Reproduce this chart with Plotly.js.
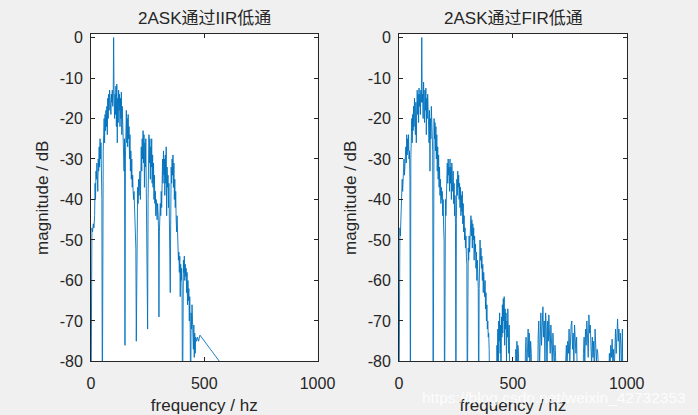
<!DOCTYPE html>
<html>
<head>
<meta charset="utf-8">
<script src="https://cdn.plot.ly/plotly-3.0.1.min.js"></script>
<style>html,body{margin:0;padding:0;background:#f0f0f0;}#chart{width:698px;height:415px;}</style>
</head>
<body>
<div id="chart"></div>
<script>
// ---- data ----
var iirFreq = [0,1.5,4,7,10,13,16,18,20,22,24,26,28,30,32,34,36,38,40,42,44,46,48,50,
52,54,56,58,60,62,64,66,68,70,72,74,76,78,80,82,84,86,88,90,92,94,96,98,100,102,
104,106,108,110,112,114,116,118,120,122,124,126,128,130,132,134,136,138,140,142,144,146,148,150,
152,154,156,158,160,162,164,166,168,170,172,174,176,178,180,182,184,186,188,190,192,194,196,198,200,
202,204,206,208,210,212,214,216,218,220,222,224,226,228,230,232,234,236,238,240,242,244,246,248,250,
252,254,256,258,260,262,264,266,268,270,272,274,276,278,280,282,284,286,288,290,292,294,296,298,300,
302,304,306,308,310,312,314,316,318,320,322,324,326,328,330,332,334,336,338,340,342,344,346,348,350,
352,354,356,358,360,362,364,366,368,370,372,374,376,378,380,382,384,386,388,390,392,394,396,398,400,402,404,
406,408,410,412,414,416,418,420,422,424,426,428,430,432,434,436,438,440,442,444,446,448,450,452,454,456,458,460,462,466,470,475,481,565,700];
var iirMag = [-95,-48,-47,-48,-46,-47,-44,-36,-40,-33,-35,-31,-37,-38,-30,-33,-27,-32,-25,-30,-26,-33,-40,-95,
-40,-28,-24,-20,-26,-19,-23,-18,-22,-17,-24,-15,-20,-14,-18,-13,-17,-15,-19,-14,-16,-13,-17,-14,0,-15,
-20,-14,-19,-12,-22,-11.5,-26,-15,-21,-13,-18,-14,-22,-15,-20,-13.5,-24,-17,-23,-19,-28,-33,-25,-76,
-30,-22,-18,-26,-20,-27,-19,-25,-22,-30,-24,-33,-28,-35,-30,-37,-34,-38,-40,-38,-42,-44,-48,-52,-75,
-50,-40,-37,-41,-35,-39,-36,-33,-40,-30,-27,-33,-25,-30,-23,-31,-24,-37,-26,-32,-25,-40,-31,-45,-72,
-40,-28,-24,-31,-25,-35,-27,-32,-25,-36,-29,-37,-31,-40,-34,-41,-38,-44,-40,-42,-45,-41,-43,-47,-69,
-48,-43,-41,-44,-38,-42,-33,-30,-36,-28,-34,-30,-39,-29,-36,-27,-44,-32,-37,-34,-42,-36,-45,-52,-63,
-45,-32,-36,-30,-34,-29,-37,-31,-40,-35,-42,-38,-45,-48,-44,-52,-49,-55,-53,-58,-54,-64,-56,-60,-57,-62,-95,
-60,-55,-58,-54,-60,-56,-59,-57,-63,-58,-66,-60,-65,-62,-70,-64,-72,-95,-68,-72,-66,-74,-70,-77,-71,-79,-73,-78,-74,-75,-74,-75,-73.5,-80,-90];

var firFreq = [0,2,4,6,8,10,12,14,16,18,20,22,24,26,28,30,32,34,36,38,40,42,44,46,48,50,
52,54,56,58,60,62,64,66,68,70,72,74,76,78,80,82,84,86,88,90,92,94,96,98,100,102,
104,106,108,110,112,114,116,118,120,122,124,126,128,130,132,134,136,138,140,142,144,146,148,150,
152,154,156,158,160,162,164,166,168,170,172,174,176,178,180,182,184,186,188,190,192,194,196,198,200,
202,204,206,208,210,212,214,216,218,220,222,224,226,228,230,232,234,236,238,240,242,244,246,248,250,
252,254,256,258,260,262,264,266,268,270,272,274,276,278,280,282,284,286,288,290,292,294,296,298,300,
302,304,306,308,310,312,314,316,318,320,322,324,326,328,330,332,334,336,338,340,342,344,346,348,350,
352,354,356,358,360,362,364,366,368,370,372,374,376,378,380,382,384,386,388,390,392,394,396,398,400,
402,410,420,426,
428,430,432,434,436,438,440,442,444,446,448,450,452,454,456,458,460,462,464,466,468,470,472,474,476,478,480,482,484,486,488,
495,505,510,513,516,518,520,522,525,527,535,545,
552,555,558,561,564,567,570,572,575,578,581,584,595,
608,611,614,617,620,623,626,629,632,635,638,641,644,647,650,653,656,658,661,664,667,670,673,676,679,682,685,688,692,700,715,
728,732,735,738,741,744,747,750,753,756,759,762,765,768,771,774,777,780,783,786,795,
806,810,813,816,819,822,825,828,831,834,837,840,843,846,849,852,855,858,861,864,867,870,873,876,879,890,905,
915,920,924,927,930,933,936,939,942,945,948,951,954,957,960,963,966,969,972,975,978,981,984,990,1000];
var firMag = [-95,-48,-47,-49,-45,-47,-41,-35,-38,-33,-36,-30,-34,-29,-32,-27,-31,-24,-29,-25,-28,-24,-30,-28,-35,-95,
-30,-24,-20,-26,-19,-23,-17,-22,-15,-20,-24,-16,-26,-18,-13,-19,-14,-21,-12.5,-17,-14,-19,-13,-16,0,-16,
-14,-20,-11,-17,-21,-13,-18,-12.5,-24,-15,-20,-14,-22,-17,-26,-18,-33,-20,-25,-17,-23,-20,-28,-95,
-28,-20,-25,-21,-28,-22,-30,-24,-33,-27,-35,-29,-37,-32,-39,-35,-41,-37,-40,-38,-44,-40,-47,-50,-95,
-50,-40,-44,-35,-39,-31,-36,-30,-34,-32,-38,-30,-36,-32,-40,-31,-35,-38,-33,-41,-36,-44,-39,-46,-95,
-45,-35,-39,-33,-37,-34,-40,-36,-42,-37,-44,-39,-43,-38,-46,-41,-48,-44,-50,-47,-52,-49,-54,-56,-95,
-60,-52,-55,-49,-53,-47,-50,-44,-49,-45,-52,-46,-50,-47,-55,-49,-53,-51,-57,-53,-60,-55,-58,-62,-95,
-62,-54,-50,-55,-52,-57,-54,-60,-56,-63,-58,-61,-64,-60,-67,-63,-70,-66,-72,-70,-74,-73,-77,-90,-95,
-88,-92,-86,-84,
-95,-76,-80,-72,-85,-70,-75,-68,-78,-71,-90,-69,-74,-66,-73,-64.5,-70,-64,-76,-67,-72,-68,-80,-70,-74,-67,-73,-78,-71,-79,-95,
-90,-88,-95,-77,-82,-75,-90,-76,-78,-95,-92,-86,
-95,-78,-74,-84,-76,-72,-79,-73,-86,-75,-78,-95,-88,
-95,-74,-70,-82,-71,-68,-76,-69,-66.5,-74,-70,-80,-68,-72,-85,-70,-75,-68.5,-73,-78,-71,-76,-80,-73,-77,-82,-76,-79,-95,-90,-86,
-95,-80,-76,-84,-75,-78,-72,-80,-74,-71,-70,-77,-73,-82,-71,-75,-78,-74,-80,-95,-89,
-95,-78,-74,-80,-72,-76,-70,-74,-79,-68.5,-73,-71,-77,-81,-74,-79,-75,-84,-72,-76,-80,-77,-78,-82,-95,-90,-88,
-95,-86,-78,-82,-76,-79,-74.5,-80,-77,-83,-74,-72,-78,-71,-69.5,-75,-72,-80,-73,-76,-84,-72,-95,-90,-88];

var titles = ['2ASK通过IIR低通', '2ASK通过FIR低通'];
var xLabel = 'frequency / hz';
var yLabel = 'magnitude / dB';
var xTickVals = [0, 500, 1000];
var xTickText = ['0', '500', '1000'];
var yTickVals = [0, -10, -20, -30, -40, -50, -60, -70, -80];
var yTickText = ['0', '-10', '-20', '-30', '-40', '-50', '-60', '-70', '-80'];
var watermark = 'https://blog.csdn.net/weixin_42732353';

// ---- styling / layout ----
var lineColor = '#0072BD';
var axColor = '#262626';
var font = 'Liberation Sans, Arial, sans-serif';

function xax(domain) {
  return {
    domain: domain, range: [0, 1000], tickvals: xTickVals, ticktext: xTickText,
    ticks: 'inside', ticklen: 4, tickcolor: axColor, showline: true, linecolor: axColor, linewidth: 1,
    mirror: 'allticks', showgrid: false, zeroline: false, ticklabelstandoff: 7,
    tickfont: {family: font, size: 16, color: axColor},
    title: {text: xLabel, font: {family: font, size: 17, color: axColor}, standoff: 10}
  };
}
function yax(anchor) {
  return {
    domain: [0.129, 0.918], range: [-80, 0.86], tickvals: yTickVals, ticktext: yTickText,
    ticks: 'inside', ticklen: 4, tickcolor: axColor, showline: true, linecolor: axColor, linewidth: 1,
    mirror: 'allticks', showgrid: false, zeroline: false, anchor: anchor, ticklabelstandoff: 4,
    tickfont: {family: font, size: 16, color: axColor},
    title: {text: yLabel, font: {family: font, size: 17, color: axColor}, standoff: 6}
  };
}

var data = [
  {x: iirFreq, y: iirMag, type: 'scatter', mode: 'lines', line: {color: lineColor, width: 0.9}, xaxis: 'x', yaxis: 'y', hoverinfo: 'skip'},
  {x: firFreq, y: firMag, type: 'scatter', mode: 'lines', line: {color: lineColor, width: 0.9}, xaxis: 'x2', yaxis: 'y2', hoverinfo: 'skip'}
];

var xa1 = xax([91/698, 317.5/698]); xa1.anchor = 'y';
var xa2 = xax([399/698, 626.7/698]); xa2.anchor = 'y2';

var layout = {
  width: 698, height: 415,
  margin: {l: 0, r: 0, t: 0, b: 0},
  paper_bgcolor: '#f0f0f0', plot_bgcolor: '#ffffff',
  showlegend: false,
  xaxis: xa1, yaxis: yax('x'),
  xaxis2: xa2, yaxis2: yax('x2'),
  annotations: [
    {text: titles[0], xref: 'paper', yref: 'paper', x: 204.5/698, y: 1 - 18/415, xanchor: 'center', yanchor: 'middle', showarrow: false,
     font: {family: 'Liberation Sans, Noto Sans CJK SC, sans-serif', size: 17, color: axColor}},
    {text: titles[1], xref: 'paper', yref: 'paper', x: 513/698, y: 1 - 18/415, xanchor: 'center', yanchor: 'middle', showarrow: false,
     font: {family: 'Liberation Sans, Noto Sans CJK SC, sans-serif', size: 17, color: axColor}},
    {text: watermark, xref: 'paper', yref: 'paper', x: 688/698, y: 1 - 397/415, xanchor: 'right', yanchor: 'middle', showarrow: false,
     font: {family: font, size: 15.5, color: 'rgba(255,255,255,0.85)'}}
  ]
};

Plotly.newPlot('chart', data, layout, {staticPlot: true, displayModeBar: false});
</script>
</body>
</html>
